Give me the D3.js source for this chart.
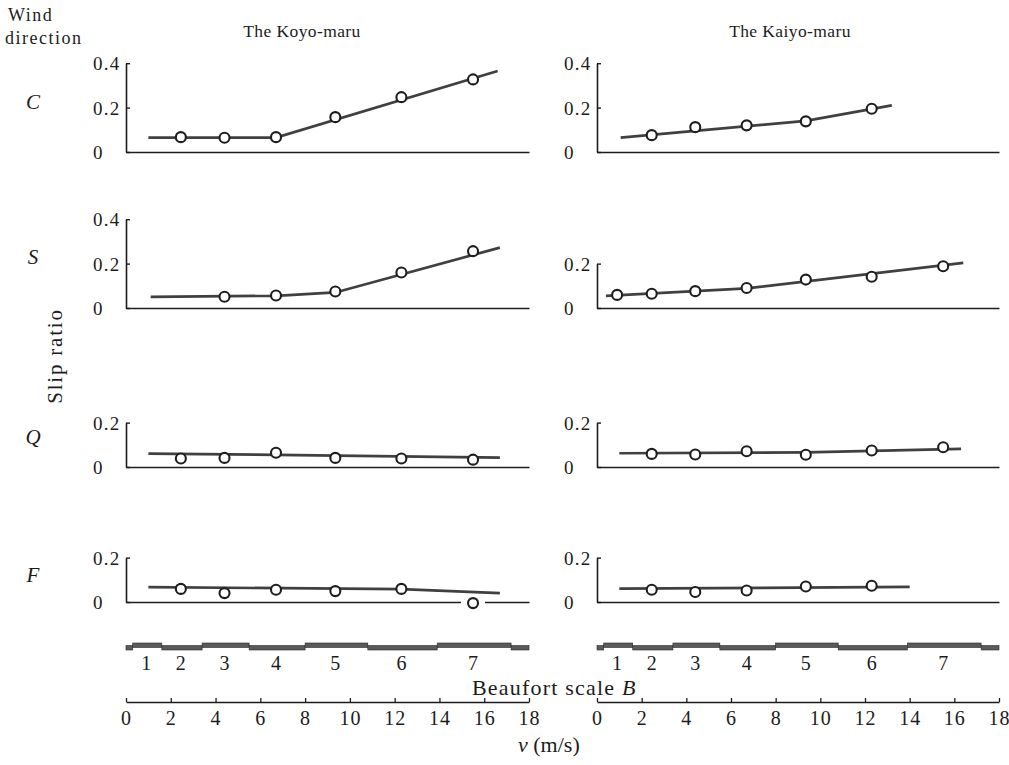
<!DOCTYPE html>
<html><head><meta charset="utf-8">
<script src="https://cdn.jsdelivr.net/npm/d3@7"></script>
<style>
body{margin:0;background:#fff;}
svg text{font-family:"Liberation Serif","DejaVu Serif","Times New Roman",serif !important;fill:#1c1c1c;}
</style></head><body>
<svg id="chart" width="1009" height="765" font-family="Liberation Serif"></svg>
<script>
// ---------- data ----------
const ships = ["The Koyo-maru", "The Kaiyo-maru"];
const directions = ["C", "S", "Q", "F"];
const beaufortNumbers = [1, 2, 3, 4, 5, 6, 7];
const beaufortMid = [0.9, 2.45, 4.4, 6.7, 9.35, 12.3, 15.5];          // m/s, class centres
const beaufortBounds = [0, 0.3, 1.6, 3.4, 5.5, 8.0, 10.8, 13.9, 17.2, 18]; // band steps
const speedTicks = [0, 2, 4, 6, 8, 10, 12, 14, 16, 18];
const slipTicksLeft = [[0, 0.2, 0.4], [0, 0.2, 0.4], [0, 0.2], [0, 0.2]];
const slipTicksRight = [[0, 0.2, 0.4], [0, 0.2], [0, 0.2], [0, 0.2]];

// Koyo-maru: observed slip ratio at Beaufort classes, and fitted lines
const koyoC_B = [2, 3, 4, 5, 6, 7];
const koyoC   = [0.067, 0.064, 0.067, 0.157, 0.247, 0.327];
const koyoC_lineV = [1.0, 6.7, 16.6];
const koyoC_lineS = [0.065, 0.065, 0.365];

const koyoS_B = [3, 4, 5, 6, 7];
const koyoS   = [0.051, 0.056, 0.074, 0.160, 0.256];
const koyoS_lineV = [1.1, 6.7, 9.35, 16.7];
const koyoS_lineS = [0.050, 0.055, 0.070, 0.272];

const koyoQ_B = [2, 3, 4, 5, 6, 7];
const koyoQ   = [0.038, 0.041, 0.064, 0.041, 0.038, 0.033];
const koyoQ_lineV = [1.0, 6.7, 16.7];
const koyoQ_lineS = [0.060, 0.055, 0.042];

const koyoF_B = [2, 3, 4, 5, 6, 7];
const koyoF   = [0.059, 0.040, 0.055, 0.049, 0.059, -0.005];
const koyoF_lineV = [1.0, 12.3, 16.7];
const koyoF_lineS = [0.067, 0.058, 0.040];

// Kaiyo-maru
const kaiyoC_B = [2, 3, 4, 5, 6];
const kaiyoC   = [0.076, 0.112, 0.120, 0.138, 0.195];
const kaiyoC_lineV = [1.06, 9.35, 13.2];
const kaiyoC_lineS = [0.065, 0.140, 0.210];

const kaiyoS_B = [1, 2, 3, 4, 5, 6, 7];
const kaiyoS   = [0.059, 0.064, 0.076, 0.090, 0.128, 0.141, 0.188];
const kaiyoS_lineV = [0.4, 6.7, 16.4];
const kaiyoS_lineS = [0.055, 0.088, 0.203];

const kaiyoQ_B = [2, 3, 4, 5, 6, 7];
const kaiyoQ   = [0.059, 0.056, 0.071, 0.055, 0.074, 0.089];
const kaiyoQ_lineV = [1.0, 9.35, 16.3];
const kaiyoQ_lineS = [0.062, 0.066, 0.082];

const kaiyoF_B = [2, 3, 4, 5, 6];
const kaiyoF   = [0.055, 0.045, 0.052, 0.070, 0.073];
const kaiyoF_lineV = [1.0, 14.0];
const kaiyoF_lineS = [0.060, 0.068];

const panelData = [
  [ {B: koyoC_B, s: koyoC, lv: koyoC_lineV, ls: koyoC_lineS},
    {B: koyoS_B, s: koyoS, lv: koyoS_lineV, ls: koyoS_lineS},
    {B: koyoQ_B, s: koyoQ, lv: koyoQ_lineV, ls: koyoQ_lineS},
    {B: koyoF_B, s: koyoF, lv: koyoF_lineV, ls: koyoF_lineS} ],
  [ {B: kaiyoC_B, s: kaiyoC, lv: kaiyoC_lineV, ls: kaiyoC_lineS},
    {B: kaiyoS_B, s: kaiyoS, lv: kaiyoS_lineV, ls: kaiyoS_lineS},
    {B: kaiyoQ_B, s: kaiyoQ, lv: kaiyoQ_lineV, ls: kaiyoQ_lineS},
    {B: kaiyoF_B, s: kaiyoF, lv: kaiyoF_lineV, ls: kaiyoF_lineS} ]
];

// ---------- layout ----------
const svg = d3.select("#chart");
const FONT = "Liberation Serif";
const ink = "#1c1c1c", lineInk = "#404040";
const colRange = [[126, 529], [597, 999]];
const rowZero = [152, 308, 467, 602];
const unitPx = 222;             // px per 1.0 slip ratio
const rowLabelY = [109, 264, 444, 582];
const titleX = [302, 790];

function txt(sel) { return sel.attr("font-family", FONT).attr("fill", ink); }

// header texts
txt(svg.append("text")).attr("x", 8).attr("y", 21).attr("font-size", 18).attr("letter-spacing", 1.5).text("Wind");
txt(svg.append("text")).attr("x", 5).attr("y", 44).attr("font-size", 18).attr("letter-spacing", 1.5).text("direction");
ships.forEach((s, i) => {
  txt(svg.append("text")).attr("x", titleX[i]).attr("y", 37).attr("text-anchor", "middle")
    .attr("font-size", 17.5).attr("letter-spacing", 0.4).text(s);
});
directions.forEach((d, r) => {
  txt(svg.append("text")).attr("x", 33).attr("y", rowLabelY[r]).attr("text-anchor", "middle")
    .attr("font-size", 21).attr("font-style", "italic").text(d);
});
txt(svg.append("text")).attr("transform", "translate(62,356) rotate(-90)").attr("text-anchor", "middle")
  .attr("font-size", 21).attr("letter-spacing", 1.8).text("Slip ratio");

// ---------- panels ----------
ships.forEach((ship, c) => {
  const x = d3.scaleLinear().domain([0, 18]).range(colRange[c]);
  directions.forEach((dir, r) => {
    const ticks = (c === 0 ? slipTicksLeft : slipTicksRight)[r];
    const yMax = d3.max(ticks);
    const y = d3.scaleLinear().domain([0, yMax]).range([rowZero[r], rowZero[r] - yMax * unitPx]);
    const g = svg.append("g");

    // y axis
    const ya = g.append("g").attr("transform", `translate(${x(0)},0)`)
      .call(d3.axisLeft(y).tickValues(ticks).tickSizeInner(-4).tickSizeOuter(0)
        .tickFormat(d => d === 0 ? "0" : d3.format(".1f")(d)));
    ya.attr("font-family", FONT);
    ya.select(".domain").attr("stroke", ink).attr("stroke-width", 1.6);
    ya.selectAll(".tick line").attr("stroke", ink).attr("stroke-width", 1.4);
    ya.selectAll(".tick text").attr("x", -33).attr("text-anchor", "start")
      .attr("font-family", FONT).attr("font-size", 19).attr("letter-spacing", 1.3)
      .attr("fill", ink).attr("dy", "0.34em");

    // x baseline
    const xa = g.append("g").attr("transform", `translate(0,${y(0)})`)
      .call(d3.axisBottom(x).tickValues([]).tickSizeOuter(0));
    xa.select(".domain").attr("stroke", ink).attr("stroke-width", 1.6);

    const pd = panelData[c][r];
    const pts = pd.B.map((b, i) => ({v: beaufortMid[b - 1], s: pd.s[i]}));
    // white gap in the baseline where a point sits on it
    g.selectAll("rect.gap").data(pts.filter(p => p.s < 0.01)).enter().append("rect")
      .attr("x", p => x(p.v) - 12).attr("width", 24)
      .attr("y", y(0) - 3).attr("height", 6).attr("fill", "#fff");

    // fitted line
    const line = d3.line().x(d => x(d[0])).y(d => y(d[1]));
    g.append("path").datum(pd.lv.map((v, i) => [v, pd.ls[i]]))
      .attr("d", line).attr("fill", "none").attr("stroke", lineInk).attr("stroke-width", 2.7);

    // points
    g.selectAll("circle.pt").data(pts).enter().append("circle")
      .attr("cx", p => x(p.v)).attr("cy", p => y(p.s)).attr("r", 5)
      .attr("fill", "#fff").attr("stroke", "#1e1e1e").attr("stroke-width", 2.1);
  });

  // Beaufort band
  const band = svg.append("g");
  for (let i = 0; i < beaufortBounds.length - 1; i++) {
    const high = i % 2 === 1;
    band.append("rect")
      .attr("x", x(beaufortBounds[i])).attr("width", x(beaufortBounds[i + 1]) - x(beaufortBounds[i]))
      .attr("y", high ? 643 : 645.5).attr("height", 4.5)
      .attr("fill", "#5a5a5a").attr("stroke", "#2a2a2a").attr("stroke-width", 0.6);
  }
  band.selectAll("text").data(beaufortNumbers).enter().append("text")
    .attr("font-family", FONT).attr("fill", ink)
    .attr("x", (d, i) => x(beaufortMid[i])).attr("y", 670).attr("text-anchor", "middle")
    .attr("font-size", 20).text(d => d);

  // speed axis
  const va = svg.append("g").attr("transform", "translate(0,702)")
    .call(d3.axisBottom(x).tickValues(speedTicks).tickSizeInner(-4).tickSizeOuter(0).tickPadding(9));
  va.attr("font-family", FONT);
  va.select(".domain").attr("stroke", ink).attr("stroke-width", 1.4);
  va.selectAll(".tick line").attr("stroke", ink).attr("stroke-width", 1.3);
  va.selectAll(".tick text").attr("font-family", FONT).attr("font-size", 20)
    .attr("letter-spacing", 1).attr("fill", ink);
});

// axis titles
const bt = txt(svg.append("text")).attr("x", 472).attr("y", 695).attr("font-size", 22).attr("letter-spacing", 1.2);
bt.append("tspan").text("Beaufort scale ");
bt.append("tspan").attr("font-style", "italic").text("B");
const vt = txt(svg.append("text")).attr("x", 518).attr("y", 752).attr("font-size", 22);
vt.append("tspan").attr("font-style", "italic").text("v");
vt.append("tspan").text(" (m/s)");
</script>
</body></html>
